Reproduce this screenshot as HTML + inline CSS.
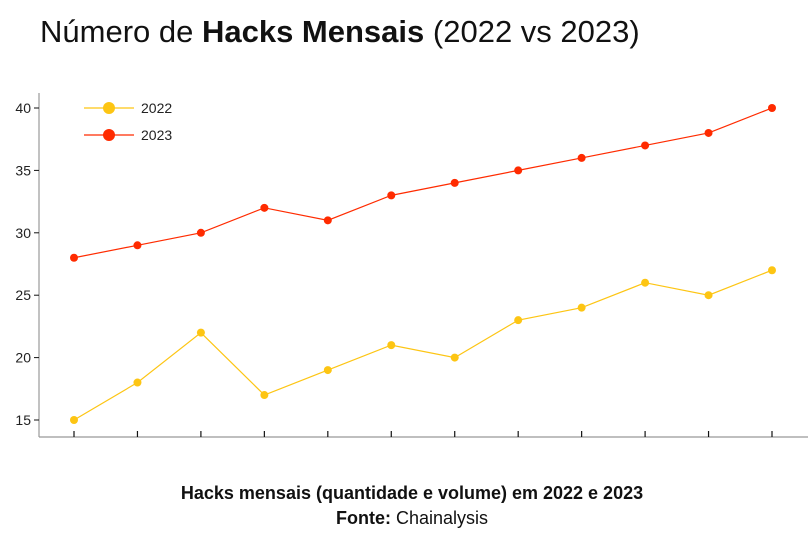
<!DOCTYPE html>
<html><head><meta charset="utf-8"><style>
body{margin:0;background:#fff;width:808px;height:538px;overflow:hidden;font-family:"Liberation Sans",sans-serif}
</style></head><body>
<svg width="808" height="538" xmlns="http://www.w3.org/2000/svg">
<text x="40" y="42" font-size="31" fill="#111">Número de <tspan font-weight="bold">Hacks Mensais</tspan> (2022 vs 2023)</text>
<g id="axes"></g>
<g id="series"></g>
<g>
<g><line x1="84" y1="108" x2="134" y2="108" stroke="#fdc513" stroke-width="1.2"/><circle cx="109" cy="108" r="6" fill="#fdc513"/><text x="141" y="113" font-size="14" fill="#222">2022</text></g>
<g><line x1="84" y1="135" x2="134" y2="135" stroke="#ff2b00" stroke-width="1.2"/><circle cx="109" cy="135" r="6" fill="#ff2b00"/><text x="141" y="140" font-size="14" fill="#222">2023</text></g>
</g>
<text x="412" y="499" font-size="18" font-weight="bold" text-anchor="middle" fill="#111">Hacks mensais (quantidade e volume) em 2022 e 2023</text>
<text x="412" y="524" font-size="18" text-anchor="middle" fill="#111"><tspan font-weight="bold">Fonte:</tspan> Chainalysis</text>
</svg>
<script>
const months=[1,2,3,4,5,6,7,8,9,10,11,12];
const values2022=[15,18,22,17,19,21,20,23,24,26,25,27];
const values2023=[28,29,30,32,31,33,34,35,36,37,38,40];
const yTicks=[15,20,25,30,35,40];
const NS="http://www.w3.org/2000/svg";
const x=i=>74+(772-74)*i/(months.length-1);
const y=v=>420-(v-15)*(420-108)/25;
const axes=document.getElementById('axes'),series=document.getElementById('series');
function mk(tag,attrs,parent){const e=document.createElementNS(NS,tag);for(const k in attrs)e.setAttribute(k,attrs[k]);parent.appendChild(e);return e;}
const ya=mk('line',{x1:39,y1:93,x2:39,y2:437,stroke:'#999','stroke-width':1.2},axes);


const xa=mk('line',{x1:39,y1:437,x2:808,y2:437,stroke:'#999','stroke-width':1.2},axes);


yTicks.forEach(t=>{
 const tk=mk('line',{x1:34,y1:y(t),x2:39,y2:y(t),stroke:'#111','stroke-width':1},axes);
 
 
 const lb=mk('text',{x:31,y:y(t)+5,'font-size':14,'text-anchor':'end',fill:'#222'},axes);
 lb.textContent=t;
 
 
});
months.forEach((m,i)=>{
 const tk=mk('line',{x1:x(i),y1:431,x2:x(i),y2:437,stroke:'#111','stroke-width':1.2},axes);
 
 
});
[[values2022,'#fdc513','2022'],[values2023,'#ff2b00','2023']].forEach(([vals,col,name])=>{
 const pl=mk('polyline',{points:vals.map((v,i)=>x(i)+','+y(v)).join(' '),fill:'none',stroke:col,'stroke-width':1.2},series);
 
 
 vals.forEach((v,i)=>{
  const c=mk('circle',{cx:x(i),cy:y(v),r:4,fill:col},series);
  
  
 });
});
</script>
</body></html>
